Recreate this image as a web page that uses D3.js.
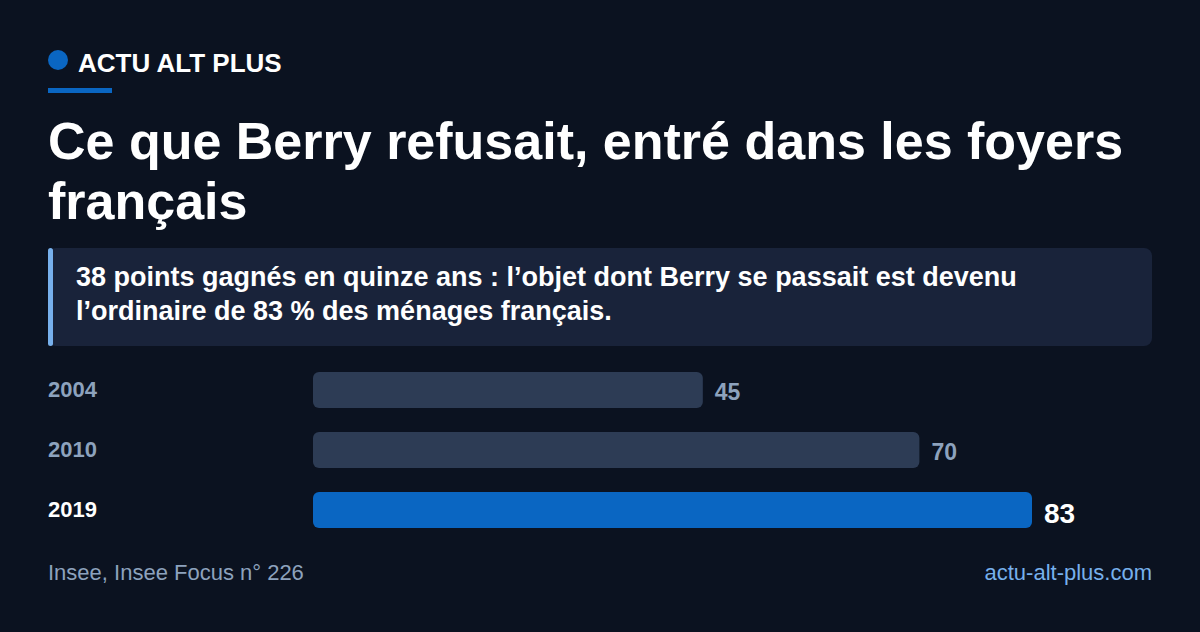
<!DOCTYPE html>
<html><head><meta charset="utf-8">
<script src="https://cdn.jsdelivr.net/npm/d3@7"></script>
<style>
html,body{margin:0;padding:0;background:#0b1220;}
svg{display:block;font-family:"Liberation Sans",Arial,Helvetica,sans-serif;}
</style></head>
<body>
<svg id="chart" width="1200" height="632"></svg>
<script>
const brand = "ACTU ALT PLUS";
const titleLines = ["Ce que Berry refusait, entré dans les foyers", "français"];
const subtitleLines = ["38 points gagnés en quinze ans : l’objet dont Berry se passait est devenu", "l’ordinaire de 83 % des ménages français."];
const categories = ["2004", "2010", "2019"];
const values = [45, 70, 83];
const highlight = ["2019"];
const source = "Insee, Insee Focus n° 226";
const site = "actu-alt-plus.com";

const svg = d3.select("#chart");
svg.append("rect").attr("width",1200).attr("height",632).attr("fill","#0b1220");

// brand
svg.append("circle").attr("cx",58).attr("cy",60).attr("r",10).attr("fill","#0a66c2");
svg.append("text").attr("x",78).attr("y",72).attr("fill","#ffffff").attr("font-size",26).attr("font-weight",700).text(brand);
svg.append("rect").attr("x",48).attr("y",88).attr("width",64).attr("height",5).attr("fill","#0a66c2");

// title
svg.append("g").selectAll("text").data(titleLines).join("text")
  .attr("x",48).attr("y",(d,i)=>159+i*60).attr("fill","#ffffff")
  .attr("font-size",52).attr("font-weight",700).text(d=>d);

// subtitle box
svg.append("rect").attr("x",48).attr("y",248).attr("width",1104).attr("height",98).attr("rx",8).attr("fill","#19233a");
svg.append("rect").attr("x",48).attr("y",248).attr("width",5).attr("height",98).attr("rx",2.5).attr("fill","#77b0ec");
svg.append("g").selectAll("text").data(subtitleLines).join("text")
  .attr("x",76).attr("y",(d,i)=>286+i*34).attr("fill","#ffffff")
  .attr("font-size",27).attr("font-weight",700).text(d=>d);

// bars
const x = d3.scaleLinear().domain([0, d3.max(values)]).range([313, 1032]);
const y = d3.scaleBand().domain(categories).range([360, 540]).paddingInner(0.4).paddingOuter(0.2);
const data = categories.map((c,i)=>({c, v:values[i], hi: highlight.includes(c)}));

const g = svg.append("g");
g.selectAll("rect.bar").data(data).join("rect").attr("class","bar")
  .attr("x",x(0)).attr("y",d=>y(d.c)).attr("width",d=>x(d.v)-x(0)).attr("height",y.bandwidth())
  .attr("rx",6).attr("fill",d=>d.hi?"#0a66c2":"#2d3c55");
g.selectAll("text.cat").data(data).join("text").attr("class","cat")
  .attr("x",48).attr("y",d=>y(d.c)+y.bandwidth()/2).attr("dy","0.3em")
  .attr("fill",d=>d.hi?"#ffffff":"#8da2bd").attr("font-size",22).attr("font-weight",700).text(d=>d.c);
g.selectAll("text.val").data(data).join("text").attr("class","val")
  .attr("x",d=>x(d.v)+12).attr("y",d=>y(d.c)+y.bandwidth()/2).attr("dy","0.45em")
  .attr("fill",d=>d.hi?"#ffffff":"#8da2bd").attr("font-size",d=>d.hi?28:23).attr("font-weight",700).text(d=>d.v);

// footer
svg.append("text").attr("x",48).attr("y",580).attr("fill","#8da2bd").attr("font-size",22).text(source);
svg.append("text").attr("x",1152).attr("y",580).attr("text-anchor","end").attr("fill","#77b0ec").attr("font-size",22).text(site);
</script>
</body></html>
